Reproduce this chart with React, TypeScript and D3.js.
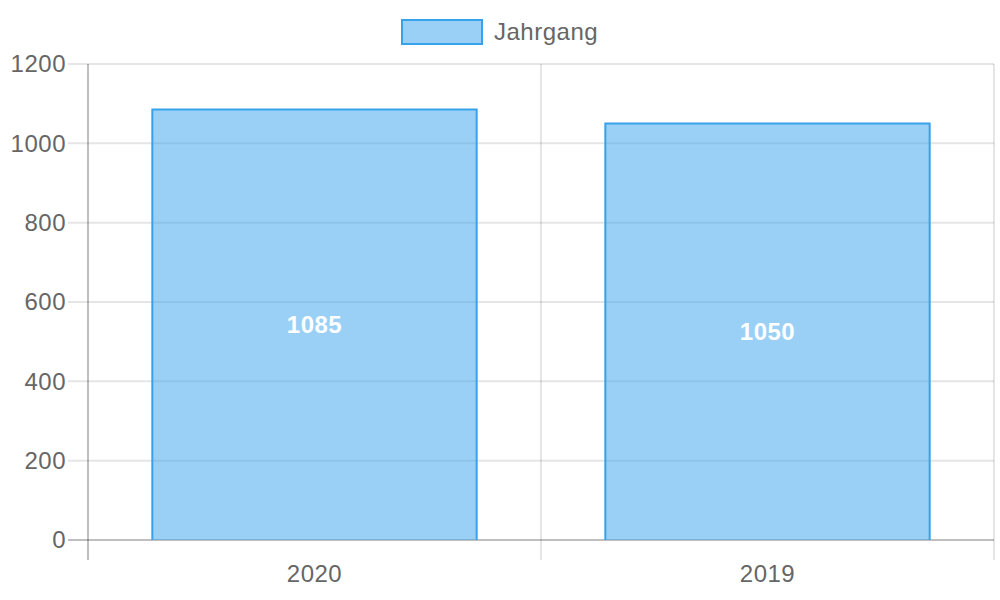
import React from "react";
import * as d3 from "d3";

const categories = ["2020", "2019"];
const values = [1085, 1050];
const yTicks = [0, 200, 400, 600, 800, 1000, 1200];
const seriesName = "Jahrgang";

export default function App() {
  const W = 1000, H = 600;
  const left = 88, right = 994, top = 64, bottom = 540;
  const x = d3.scaleBand<string>().domain(categories).range([left, right]).paddingInner(0).paddingOuter(0);
  const y = d3.scaleLinear().domain([0, 1200]).range([bottom, top]);
  const bw = x.bandwidth() * 0.716;
  const font = "'Liberation Sans', Arial, sans-serif";
  const grid = "rgba(0,0,0,0.1)";
  const boundaries = [left, ...categories.map((c) => (x(c) as number) + x.bandwidth())];
  return (
    <svg width={W} height={H} style={{ position: "absolute", left: 0, top: 0 }} fontFamily={font}>
      <rect x={0} y={0} width={W} height={H} fill="#fff" />
      {/* legend */}
      <rect x={402} y={20} width={80} height={24} fill="rgba(54,162,235,0.5)" stroke="rgb(54,162,235)" strokeWidth={2} />
      <text x={494} y={32} dy="0.35em" fontSize={24} fill="#666" letterSpacing={0.5}>{seriesName}</text>
      {/* horizontal grid */}
      {yTicks.map((t) => (
        <g key={t}>
          <line x1={68} x2={right} y1={y(t)} y2={y(t)} stroke={t === 0 ? "rgba(0,0,0,0.25)" : grid} strokeWidth={2} />
          <text x={66} y={y(t)} dy="0.35em" textAnchor="end" fontSize={24} fill="#666" letterSpacing={0.5}>{t}</text>
        </g>
      ))}
      {/* vertical grid */}
      {boundaries.map((bx, i) => (
        <line key={i} x1={bx} x2={bx} y1={top} y2={560} stroke={i === 0 ? "rgba(0,0,0,0.25)" : grid} strokeWidth={2} />
      ))}
      {/* bars */}
      {categories.map((c, i) => {
        const cx = (x(c) as number) + x.bandwidth() / 2;
        const x0 = cx - bw / 2;
        const yt = y(values[i]);
        return (
          <g key={c}>
            <rect x={x0} y={yt} width={bw} height={bottom - yt} fill="rgba(54,162,235,0.5)" />
            <path d={`M${x0},${bottom} V${yt} H${x0 + bw} V${bottom}`} fill="none" stroke="rgb(54,162,235)" strokeWidth={2} />
            <text x={cx} y={(yt + bottom) / 2} dy="0.35em" textAnchor="middle" fontSize={24} fontWeight="bold" fill="#fff" letterSpacing={0.5}>{values[i]}</text>
            <text x={cx} y={574} dy="0.35em" textAnchor="middle" fontSize={24} fill="#666" letterSpacing={0.5}>{c}</text>
          </g>
        );
      })}
    </svg>
  );
}
